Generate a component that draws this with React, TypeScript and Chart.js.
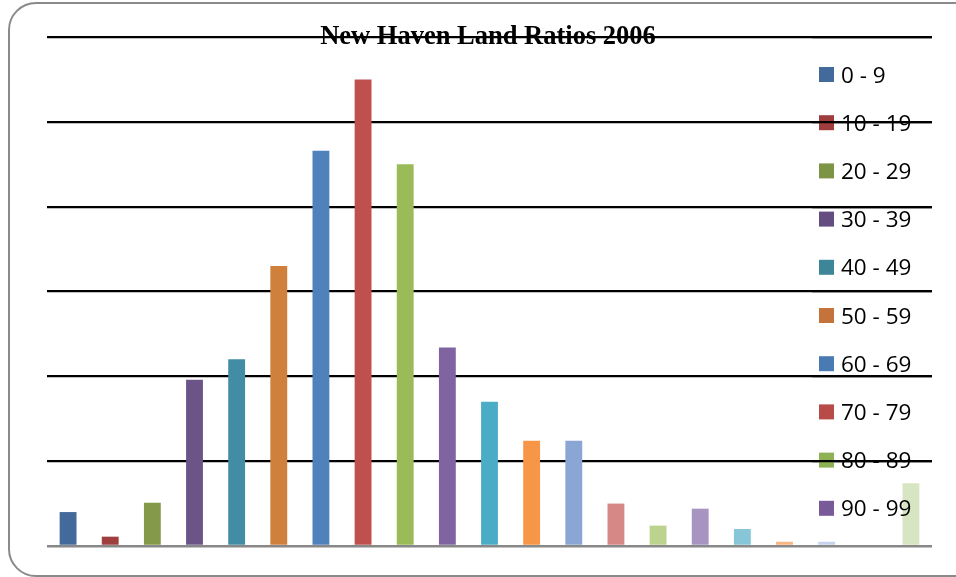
import React, { useEffect, useRef } from 'react';
import { Chart, registerables } from 'chart.js';

Chart.register(...registerables);

const chartTitle = 'New Haven Land Ratios 2006';

const categories = [
  '0 - 9', '10 - 19', '20 - 29', '30 - 39', '40 - 49', '50 - 59', '60 - 69',
  '70 - 79', '80 - 89', '90 - 99', '100 - 109', '110 - 119', '120 - 129',
  '130 - 139', '140 - 149', '150 - 159', '160 - 169', '170 - 179',
  '180 - 189', '190 - 199', '200 +',
];

const counts = [
  20, 5.5, 25.5, 98, 110, 165, 233, 275, 225, 117, 85, 62, 62, 25, 12, 22, 10,
  2.5, 2.5, 0, 37,
];

const barColors = [
  '#44699b', '#a0403e', '#84994a', '#6c5489', '#428ca6', '#cf803b', '#4f81bd',
  '#c0504d', '#9bbb59', '#8064a2', '#4bacc6', '#f79646', '#8ba6d4', '#d68887',
  '#bbd38d', '#a794c1', '#87c5d8', '#f9b582', '#c5d3ec', '#e6b9b8', '#d8e5c3',
];

const legendColors = [
  '#426a9b', '#9e3d3b', '#7c9444', '#664d80', '#3d8598', '#c4733a', '#4a7ab4',
  '#b84b48', '#8fb155', '#785a98',
];

const yTicks = [0, 50, 100, 150, 200, 250, 300];

const GRID_W = 2.2;

const overlayPlugin = {
  id: 'overlay',
  afterDatasetsDraw(chart: any) {
    const ctx = chart.ctx as CanvasRenderingContext2D;
    const area = chart.chartArea;
    const yScale = chart.scales.y;
    ctx.save();
    // legend
    ctx.font = '22.5px "Open Sans"';
    ctx.textAlign = 'left';
    ctx.textBaseline = 'alphabetic';
    for (let i = 0; i < legendColors.length; i++) {
      const cy = 74.5 + i * 48.2;
      ctx.fillStyle = legendColors[i];
      ctx.fillRect(819, cy - 7.5, 15, 15);
      ctx.fillStyle = '#000';
      ctx.fillText(categories[i], 841, cy + 8);
    }
    // gridlines over the legend region (same pixel alignment as Chart.js)
    ctx.strokeStyle = '#000';
    ctx.lineWidth = GRID_W;
    const half = GRID_W / 2;
    for (const v of yTicks) {
      if (v === 0) continue;
      const p = yScale.getPixelForValue(v);
      const y = Math.round(p - half) + half;
      ctx.beginPath();
      ctx.moveTo(812, y);
      ctx.lineTo(area.right, y);
      ctx.stroke();
    }
    // title
    ctx.font = 'bold 26.5px "Liberation Serif", "Times New Roman", serif';
    ctx.textAlign = 'center';
    ctx.fillStyle = '#000';
    ctx.fillText(chartTitle, 488, 44);
    ctx.restore();
  },
};

export default function App() {
  const canvasRef = useRef<HTMLCanvasElement | null>(null);

  useEffect(() => {
    const canvas = canvasRef.current;
    if (!canvas) return;
    const chart = new Chart(canvas, {
      type: 'bar',
      data: {
        labels: categories,
        datasets: [
          {
            data: counts,
            backgroundColor: barColors,
            borderWidth: 0,
            barPercentage: 0.4,
            categoryPercentage: 1,
          },
        ],
      },
      options: {
        responsive: false,
        animation: false,
        devicePixelRatio: 1,
        layout: { padding: { left: 47, right: 24, top: 37, bottom: 31 } },
        plugins: {
          legend: { display: false },
          title: { display: false },
          tooltip: { enabled: false },
        },
        scales: {
          x: {
            display: false,
            offset: true,
          },
          y: {
            min: 0,
            max: 300,
            afterBuildTicks: (scale: any) => {
              scale.ticks = yTicks.map((v) => ({ value: v }));
            },
            ticks: { display: false },
            border: { display: false },
            grid: {
              drawTicks: false,
              tickLength: 0,
              color: (c: any) => (c.tick && c.tick.value === 0 ? '#888888' : '#000000'),
              lineWidth: (c: any) => (c.tick && c.tick.value === 0 ? 2.5 : GRID_W),
            },
          },
        },
      },
      plugins: [overlayPlugin],
    });
    return () => chart.destroy();
  }, []);

  return (
    <div
      style={{
        position: 'fixed',
        left: 0,
        top: 0,
        width: 956,
        height: 577,
        overflow: 'hidden',
        background: '#fff',
      }}
    >
      <div
        style={{
          position: 'absolute',
          left: 8,
          top: 2,
          width: 985,
          height: 575,
          border: '2px solid #8a8a8a',
          borderRadius: 28,
          boxSizing: 'border-box',
        }}
      />
      <canvas
        ref={canvasRef}
        width={956}
        height={577}
        style={{ position: 'absolute', left: 0, top: 0, width: 956, height: 577 }}
      />
    </div>
  );
}
